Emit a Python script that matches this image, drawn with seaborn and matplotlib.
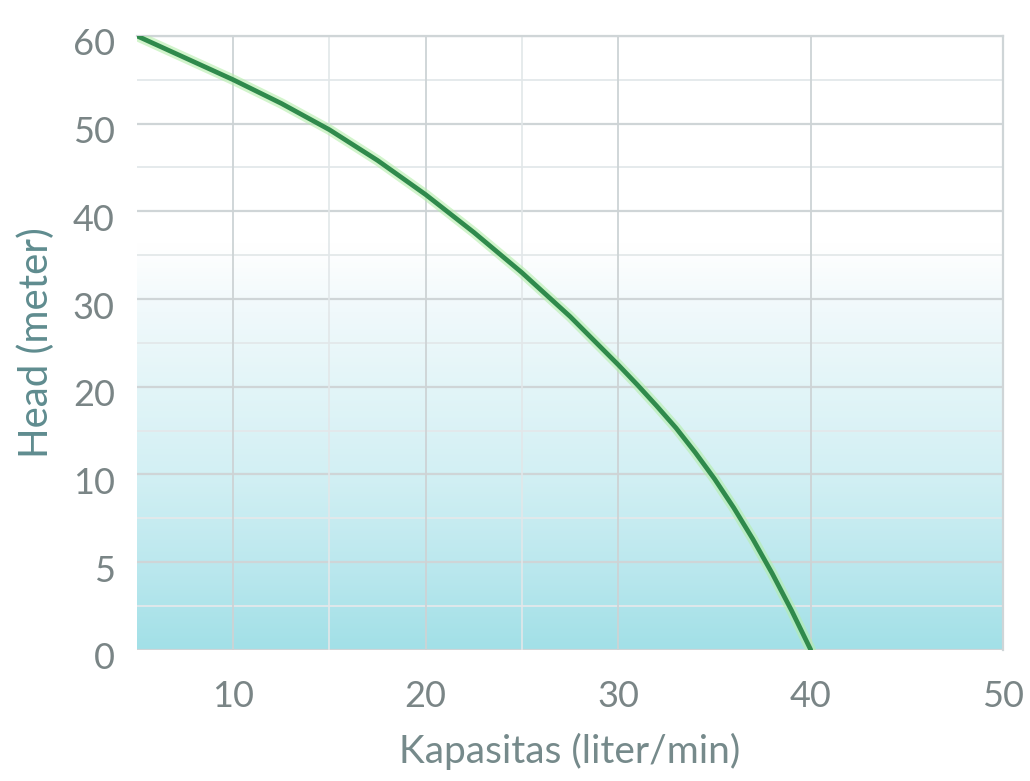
import numpy as np
import matplotlib
matplotlib.use("Agg")
import matplotlib.pyplot as plt
import matplotlib.transforms as mtransforms
import seaborn as sns
from matplotlib.colors import LinearSegmentedColormap

# Pump curve
flow = [5, 7.5, 10, 12.5, 15, 17.5, 20, 22.5, 25, 27.5, 30,
        31, 32, 33, 34, 35, 36, 37, 38, 39, 40]
head = [60, 57.5, 55, 52.3, 49.3, 45.8, 41.9, 37.6, 33.0, 28.0, 22.5,
        20.2, 17.8, 15.3, 12.5, 9.75, 8.1, 6.3, 4.35, 2.25, 0]

y_ticks = [0, 5, 10, 20, 30, 40, 50, 60]
y_mid = [2.5, 7.5, 15, 25, 35, 45, 55]
x_ticks = [10, 20, 30, 40, 50]
x_mid = [15, 25]

# y axis has evenly spaced ticks with uneven values -> piecewise scale
tick_pos = np.arange(len(y_ticks), dtype=float)

def forward(v):
    return np.interp(v, y_ticks, tick_pos)

def inverse(p):
    return np.interp(p, tick_pos, y_ticks)

sns.set_style("white")
plt.rcParams["font.family"] = ["Lato", "DejaVu Sans"]

fig = plt.figure(figsize=(10.3, 7.81), dpi=100)
ax = fig.add_axes([0.133, 0.168, 0.841, 0.786])
ax.set_yscale("function", functions=(forward, inverse))

# background: white on top fading to pale cyan at the bottom
cmap = LinearSegmentedColormap.from_list(
    "bg", [(0.0, "#a2e0e7"), (0.14, "#bce8ee"), (0.29, "#d3f0f4"),
           (0.55, "#f0f9fb"), (0.66, "#ffffff"), (1.0, "#ffffff")])
grad = np.linspace(0, 1, 256).reshape(-1, 1)
ax.imshow(grad, cmap=cmap, origin="lower", extent=[0, 1, 0, 1],
          transform=ax.transAxes, aspect="auto", zorder=0)

ax.set_xlim(5, 50)
ax.set_ylim(0, 60)

# grid lines
for v in y_ticks:
    ax.axhline(v, color="#cfd5d7", lw=1.6, zorder=1)
for v in y_mid:
    ax.axhline(v, color="#e3e8ea", lw=1.3, zorder=1)
for v in x_ticks:
    ax.axvline(v, color="#cdd3d5", lw=1.3, zorder=1)
for v in x_mid:
    ax.axvline(v, color="#e2e7e9", lw=1.2, zorder=1)

# curve with a soft light-green halo
sns.lineplot(x=flow, y=head, ax=ax, color="#b4eeaa", lw=7.5, alpha=0.6, zorder=3)
sns.lineplot(x=flow, y=head, ax=ax, color="#2f8a4c", lw=3.4, zorder=4)

ax.set_yticks(y_ticks)
ax.set_yticklabels([str(v) for v in y_ticks])
ax.set_xticks(x_ticks)
ax.set_xticklabels([str(v) for v in x_ticks])
ax.tick_params(axis="both", length=0, labelsize=26, labelcolor="#7a8586")
ax.tick_params(axis="y", pad=16)
ax.tick_params(axis="x", pad=22)

# y labels sit a little below their grid lines in the original
shift = mtransforms.ScaledTranslation(0, -6 / 100, fig.dpi_scale_trans)
for lab in ax.get_yticklabels():
    lab.set_transform(lab.get_transform() + shift)

for s in ["left", "bottom"]:
    ax.spines[s].set_visible(False)
for s in ["top", "right"]:
    ax.spines[s].set_color("#cfd5d7")
    ax.spines[s].set_linewidth(1.6)

ax.set_xlabel("Kapasitas (liter/min)", fontsize=28, color="#768a8b")
ax.set_ylabel("Head (meter)", fontsize=29, color="#5f8c8f")
ax.xaxis.set_label_coords(0.5, -0.135)
ax.yaxis.set_label_coords(-0.095, 0.5)

fig.savefig("out.png", dpi=100)
